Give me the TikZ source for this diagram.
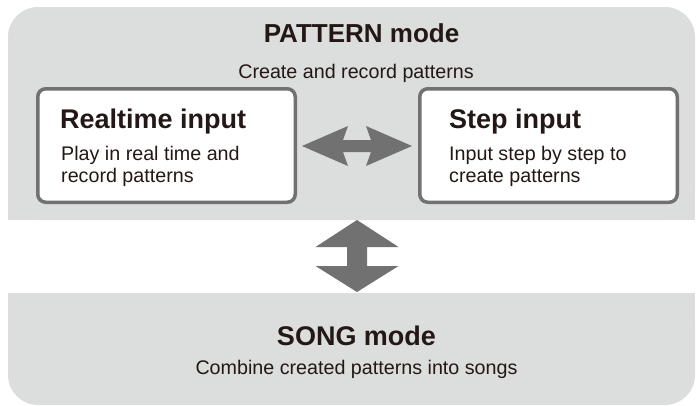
\documentclass[tikz,border=0pt]{standalone}
\usepackage{fontspec}
\setmainfont{Liberation Sans}
\definecolor{panel}{HTML}{DCDDDD}
\definecolor{edge}{HTML}{727171}
\definecolor{ink}{HTML}{231815}
\tikzset{
  modebox/.style={draw=edge, line width=3.5pt, fill=white, rounded corners=8pt,
    minimum width=257.5pt, minimum height=113.5pt, inner sep=0pt},
  headtxt/.style={text=ink, inner sep=0pt, font=\fontsize{27}{31}\selectfont\bfseries},
  titletxt/.style={text=ink, inner sep=0pt, font=\fontsize{26}{30}\selectfont\bfseries},
  bodytxt/.style={text=ink, inner sep=0pt, font=\fontsize{19.7}{22}\selectfont},
  blockarrow/.style={fill=edge}
}
\begin{document}
\begin{tikzpicture}[x=1pt,y=-1pt]
\useasboundingbox (0,0) rectangle (696,405);
% PATTERN panel
\fill[panel, rounded corners=30pt] (8,7) rectangle (695,220);
\fill[panel] (8,120) rectangle (695,220);
% SONG panel
\fill[panel, rounded corners=30pt] (8,293) rectangle (695,405);
\fill[panel] (8,293) rectangle (695,350);

\node[titletxt, anchor=base] (pt) at (361.5,42) {PATTERN mode};
\node[bodytxt, anchor=base] (ps) at (356,78) {Create and record patterns};

\node[modebox] (rt) at (166.5,145.5) {};
\node[modebox] (st) at (548.5,145.5) {};

\node[headtxt, anchor=base west] (rth) at (60,128) {Realtime input};
\node[bodytxt, anchor=base west] (rtb1) at (61,160) {Play in real time and};
\node[bodytxt, anchor=base west] (rtb2) at (61,182) {record patterns};

\node[headtxt, anchor=base west] (sth) at (449,128) {Step input};
\node[bodytxt, anchor=base west] (stb1) at (449,160) {Input step by step to};
\node[bodytxt, anchor=base west] (stb2) at (449,182) {create patterns};

\node[headtxt, anchor=base] (sg) at (356.5,345) {SONG mode};
\node[bodytxt, anchor=base] (sgb) at (356.5,374) {Combine created patterns into songs};

% horizontal double arrow
\coordinate (hc) at (357,146);
\begin{scope}[shift={(hc)}]
\fill[blockarrow] (-55,0) -- (-9,-20) -- (-14,-6) -- (14,-6) -- (9,-20) -- (55,0)
  -- (9,20) -- (14,6) -- (-14,6) -- (-9,20) -- cycle;
\end{scope}
% vertical double arrow
\coordinate (vc) at (357,256);
\begin{scope}[shift={(vc)}]
\fill[blockarrow] (0,-36) -- (41.5,-9) -- (10,-9) -- (10,10) -- (41.5,10) -- (0,36)
  -- (-41.5,10) -- (-10,10) -- (-10,-9) -- (-41.5,-9) -- cycle;
\end{scope}
\end{tikzpicture}
\end{document}
